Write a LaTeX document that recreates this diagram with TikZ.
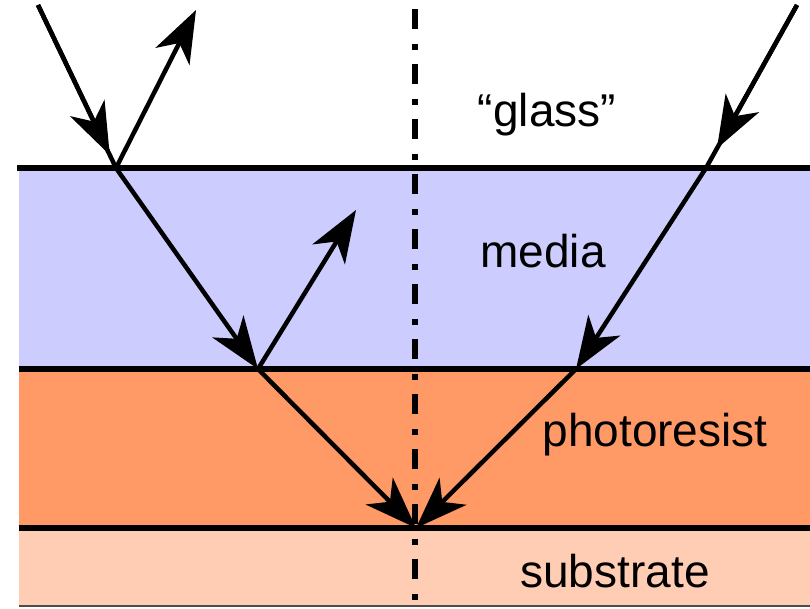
\documentclass[tikz,border=0pt]{standalone}
\usepackage{fontspec}
\setmainfont{Liberation Sans}
\usetikzlibrary{arrows.meta,calc}
\definecolor{mediac}{RGB}{204,204,255}
\definecolor{resistc}{RGB}{255,153,102}
\definecolor{subc}{RGB}{255,204,180}
\begin{document}
\begin{tikzpicture}[x=1pt,y=-1pt,
  ray/.style={line width=4.5pt},
  arr/.style={line width=4.5pt,-{Stealth[length=52pt,width=38pt,inset=15pt]}},
  iface/.style={line width=6pt},
  lbl/.style={font=\fontsize{46}{50}\selectfont,anchor=base,inner sep=0pt}]
\useasboundingbox (0,0) rectangle (810,608);
% layers
\fill[mediac] (19,168) rectangle (810,369);
\fill[resistc] (19,369) rectangle (810,528);
\fill[subc] (19,528) rectangle (810,606);
\draw[line width=1.5pt,black!70] (19,606) -- (810,606);
% axis
\coordinate (axt) at (415,0);
\coordinate (axb) at (415,608);
\draw[line width=6pt,dash pattern=on 20pt off 15pt on 6pt off 14pt,dash phase=46pt] (axt) -- (axb);
% interfaces
\coordinate (i1l) at (17,168); \coordinate (i1r) at (810,168);
\coordinate (i2l) at (19,369); \coordinate (i2r) at (810,369);
\coordinate (i3l) at (19,528); \coordinate (i3r) at (810,528);
\draw[iface] (i1l) -- (i1r);
\draw[iface] (i2l) -- (i2r);
\draw[iface] (i3l) -- (i3r);
% ray points
\coordinate (a0) at (38,5);
\coordinate (a1) at (116,168);
\coordinate (r1) at (196,10);
\coordinate (a2) at (258,369);
\coordinate (r2) at (356,210);
\coordinate (f) at (416,528);
\coordinate (b0) at (797,5);
\coordinate (b1) at (706,168);
\coordinate (b2) at (576,369);
% left rays
\draw[ray] (a0) -- (a1);
\draw[arr] (a0) -- ($(a0)!0.92!(a1)$);
\draw[arr] (a1) -- (r1);
\draw[arr] (a1) -- (a2);
\draw[arr] (a2) -- (r2);
\draw[arr] (a2) -- (f);
% right rays
\draw[ray] (b0) -- (b1);
\draw[arr] (b0) -- ($(b0)!0.88!(b1)$);
\draw[arr] (b1) -- (b2);
\draw[arr] (b2) -- (f);
% labels
\node[lbl] (tg) at (547,126) {“glass”};
\node[lbl] (tm) at (543,267) {media};
\node[lbl] (tp) at (655,446) {photoresist};
\node[lbl] (ts) at (615,587) {substrate};
\end{tikzpicture}
\end{document}
